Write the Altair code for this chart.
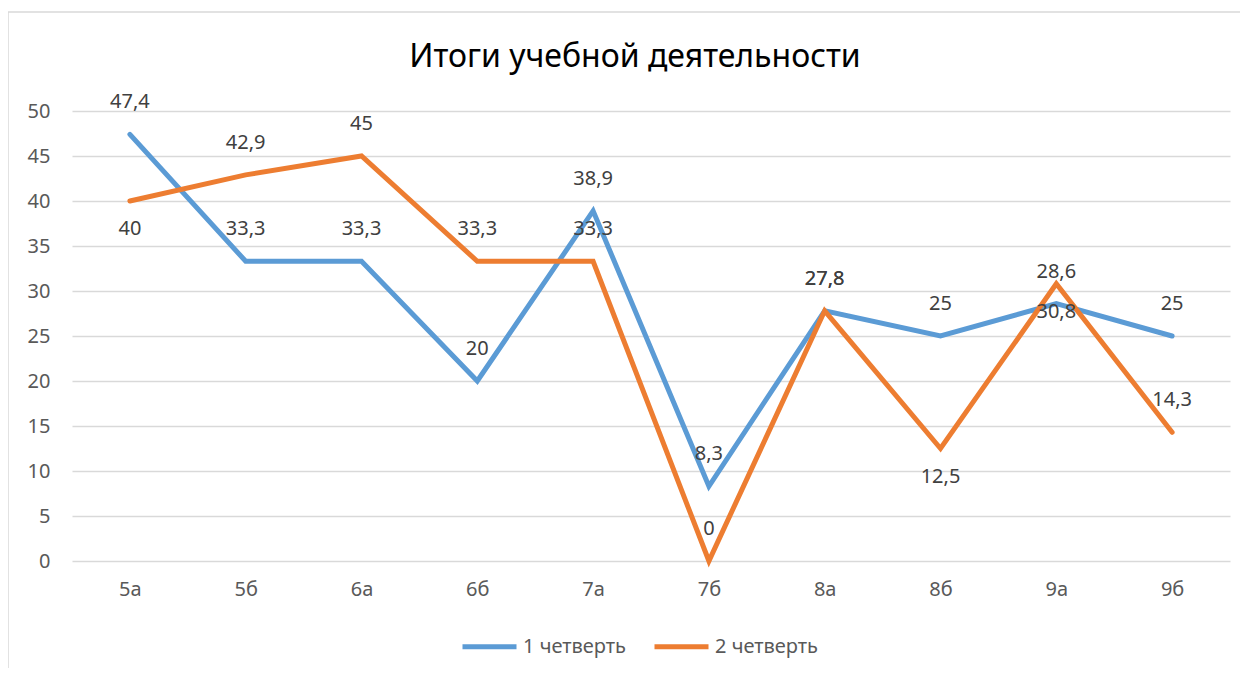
import altair as alt
import pandas as pd

classes = ["5а", "5б", "6а", "6б", "7а", "7б", "8а", "8б", "9а", "9б"]
series_names = ["1 четверть", "2 четверть"]
q1 = [47.4, 33.3, 33.3, 20, 38.9, 8.3, 27.8, 25, 28.6, 25]
q2 = [40, 42.9, 45, 33.3, 33.3, 0, 27.8, 12.5, 30.8, 14.3]
# data labels of series 2 that Excel placed under the point
q2_labels_below = ["5а", "8б", "9а"]
title_text = "Итоги учебной деятельности"

colors = ["#5B9BD5", "#ED7D31"]

rows = []
for name, vals in zip(series_names, [q1, q2]):
    for i, (c, v) in enumerate(zip(classes, vals)):
        below = (name == series_names[1]) and (c in q2_labels_below)
        rows.append({"cls": c, "series": name, "value": v, "order": i,
                     "below": below})
df = pd.DataFrame(rows)

FONT = "Noto Sans"
W, H = 1158, 450

x_enc = alt.X("cls:N", sort=classes, title=None,
              scale=alt.Scale(type="point", padding=0.5),
              axis=alt.Axis(labelAngle=0, ticks=False, domain=False, grid=False,
                            labelPadding=18, labelFontSize=20,
                            labelColor="#595959", labelFont=FONT))
y_enc = alt.Y("value:Q", title=None,
              scale=alt.Scale(domain=[0, 50], nice=False, zero=True),
              axis=alt.Axis(values=list(range(0, 51, 5)), ticks=False, domain=False,
                            grid=True, gridColor="#D9D9D9", gridWidth=1.5,
                            labelPadding=22, labelFontSize=20,
                            labelColor="#595959", labelFont=FONT))
color_enc = alt.Color("series:N", title=None,
                      scale=alt.Scale(domain=series_names, range=colors),
                      legend=alt.Legend(orient="none", legendX=388, legendY=506,
                                        direction="horizontal",
                                        symbolType="stroke", symbolSize=2916,
                                        symbolStrokeWidth=5, labelFontSize=20,
                                        labelColor="#595959", labelFont=FONT,
                                        labelOffset=4, columnPadding=18))

base = alt.Chart(df)

one = pd.DataFrame({"t": [title_text]})

border = alt.Chart(one).mark_rect(
    fill=None, stroke="#D9D9D9", strokeWidth=1.5
).encode(x=alt.value(-64), x2=alt.value(W + 200),
         y=alt.value(-99), y2=alt.value(H + 300))

title = alt.Chart(one).mark_text(
    fontSize=32, font=FONT, color="#000000", baseline="middle", align="center"
).encode(x=alt.value(563), y=alt.value(-54), text="t:N")

lines = base.mark_line(strokeWidth=5, strokeCap="round").encode(
    x=x_enc, y=y_enc, color=color_enc, order="order:Q",
    detail="series:N")

lab = base.transform_calculate(
    label="replace(toString(datum.value), '.', ',')")

labels_above = lab.transform_filter("!datum.below").mark_text(
    dy=-32, fontSize=20, font=FONT, color="#404040").encode(
    x=alt.X("cls:N", sort=classes), y="value:Q", text="label:N")
labels_below = lab.transform_filter("datum.below").mark_text(
    dy=28, fontSize=20, font=FONT, color="#404040").encode(
    x=alt.X("cls:N", sort=classes), y="value:Q", text="label:N")

chart = alt.layer(border, title, lines, labels_above, labels_below).properties(
    width=W, height=H,
    autosize=alt.AutoSizeParams(type="none"),
    padding={"left": 64, "top": 103, "right": 10, "bottom": 107},
).configure_view(stroke=None)

chart.save("out.html", embed_options={"renderer": "svg", "actions": False})
